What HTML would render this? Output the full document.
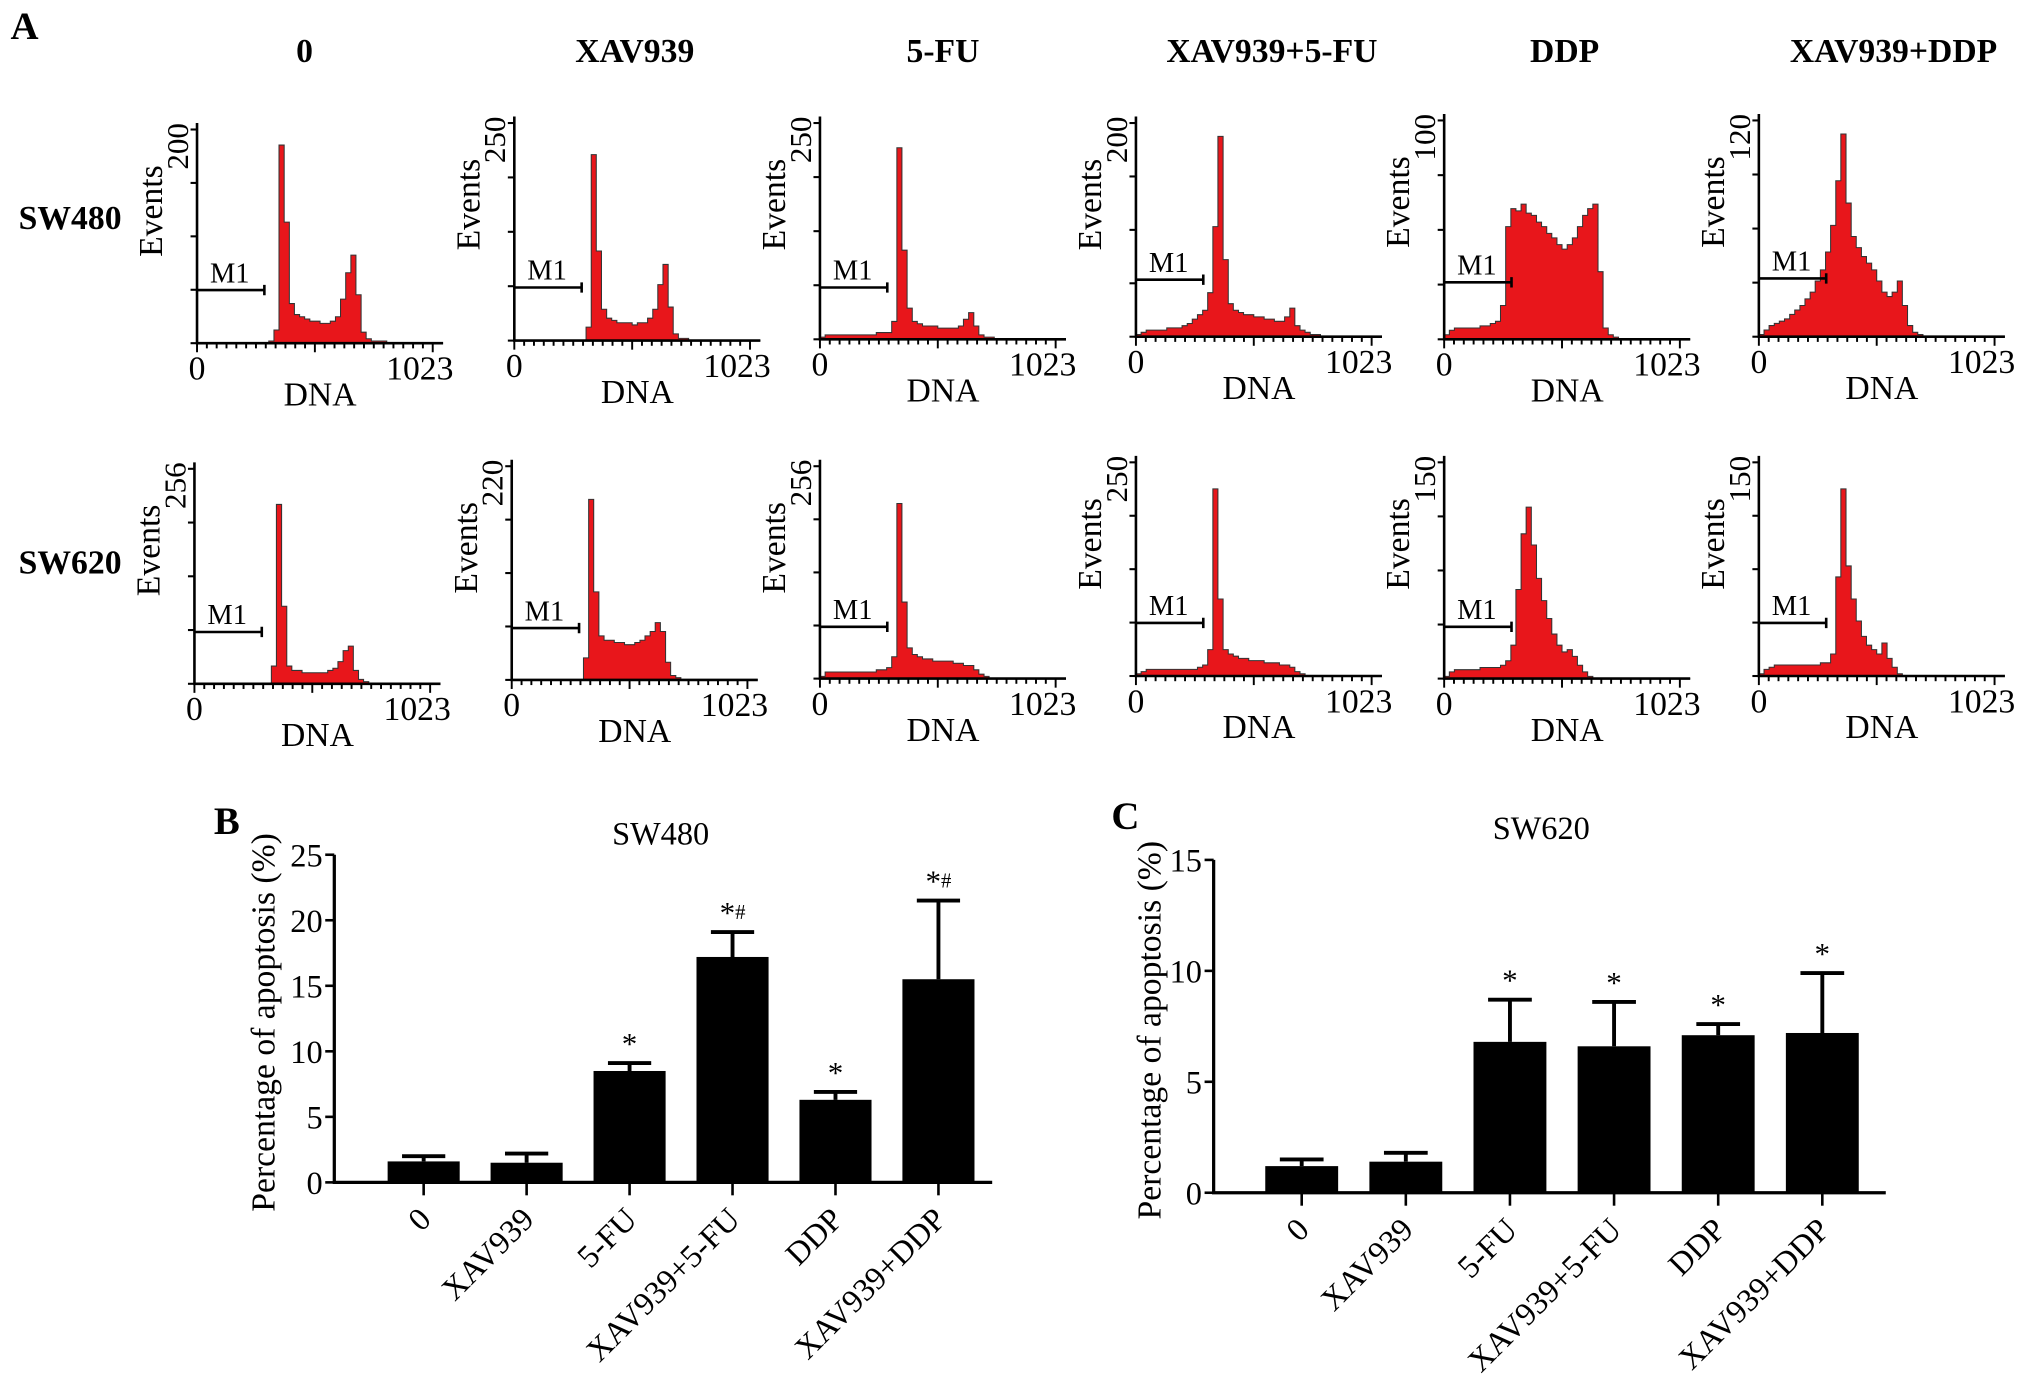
<!DOCTYPE html>
<html><head><meta charset="utf-8"><style>
html,body{margin:0;padding:0;background:#fff;}
svg{display:block;font-family:"Liberation Serif",serif;}
</style></head><body>
<svg id="fig" width="2031" height="1387" viewBox="0 0 1568 1071" xmlns="http://www.w3.org/2000/svg">
<rect width="1568" height="1071" fill="#fff"/>
<text x="8" y="30" font-size="30" font-weight="bold">A</text>
<text x="165" y="644" font-size="30" font-weight="bold">B</text>
<text x="858" y="640" font-size="30" font-weight="bold">C</text>
<text x="54" y="177" font-size="26" font-weight="bold" text-anchor="middle">SW480</text>
<text x="54" y="443" font-size="26" font-weight="bold" text-anchor="middle">SW620</text>
</svg>
<script>
// ---------- Panel A data ----------
const colTitles = ["0","XAV939","5-FU","XAV939+5-FU","DDP","XAV939+DDP"];
const row1Max = ["200","250","250","200","100","120"];
const row2Max = ["256","220","256","250","150","150"];
// histograms: 48 bins, fraction of axis height
const h_r1c0=[0,0,0,0,0,0,0,0,0,0,0,0,0,0,0.01,0.06,0.9,0.55,0.18,0.13,0.12,0.11,0.1,0.1,0.09,0.09,0.1,0.12,0.2,0.32,0.4,0.22,0.05,0.02,0.01,0.01,0.01,0,0,0,0,0,0,0,0,0,0,0];
const h_r1c1=[0,0,0,0,0,0,0,0,0,0,0,0,0,0,0.06,0.83,0.4,0.14,0.1,0.09,0.08,0.08,0.08,0.07,0.08,0.08,0.1,0.14,0.25,0.34,0.15,0.03,0.01,0.01,0,0,0,0,0,0,0,0,0,0,0,0,0,0];
const h_r1c2=[0.01,0.02,0.02,0.02,0.02,0.02,0.02,0.02,0.02,0.02,0.02,0.03,0.03,0.03,0.08,0.86,0.4,0.14,0.08,0.07,0.06,0.06,0.06,0.05,0.05,0.05,0.05,0.06,0.09,0.12,0.06,0.02,0.01,0.01,0,0,0,0,0,0,0,0,0,0,0,0,0,0];
const h_r1c3=[0.01,0.02,0.03,0.03,0.03,0.03,0.04,0.04,0.04,0.05,0.06,0.08,0.1,0.12,0.2,0.5,0.91,0.35,0.15,0.12,0.11,0.1,0.1,0.09,0.09,0.08,0.08,0.07,0.07,0.09,0.13,0.05,0.03,0.02,0.01,0.01,0,0,0,0,0,0,0,0,0,0,0,0];
const h_r1c4=[0.02,0.04,0.05,0.05,0.05,0.05,0.05,0.06,0.06,0.07,0.08,0.15,0.5,0.58,0.57,0.6,0.56,0.55,0.52,0.5,0.47,0.45,0.42,0.4,0.42,0.45,0.5,0.55,0.58,0.6,0.3,0.05,0.02,0.01,0,0,0,0,0,0,0,0,0,0,0,0,0,0];
const h_r1c5=[0.01,0.03,0.05,0.06,0.07,0.08,0.1,0.12,0.14,0.17,0.2,0.25,0.3,0.38,0.5,0.7,0.91,0.6,0.45,0.4,0.36,0.33,0.3,0.25,0.2,0.18,0.2,0.25,0.14,0.05,0.02,0.01,0,0,0,0,0,0,0,0,0,0,0,0,0,0,0,0];
const h_r2c0=[0,0,0,0,0,0,0,0,0,0,0,0,0,0,0,0.08,0.81,0.35,0.08,0.06,0.06,0.05,0.05,0.05,0.05,0.05,0.06,0.07,0.1,0.15,0.17,0.06,0.02,0.01,0,0,0,0,0,0,0,0,0,0,0,0,0,0];
const h_r2c1=[0,0,0,0,0,0,0,0,0,0,0,0,0,0,0.1,0.82,0.4,0.2,0.18,0.18,0.17,0.17,0.16,0.16,0.17,0.18,0.2,0.22,0.26,0.22,0.08,0.02,0.01,0,0,0,0,0,0,0,0,0,0,0,0,0,0,0];
const h_r2c2=[0.01,0.03,0.03,0.03,0.03,0.03,0.03,0.03,0.03,0.03,0.03,0.04,0.04,0.05,0.1,0.8,0.35,0.14,0.11,0.1,0.09,0.09,0.08,0.08,0.08,0.08,0.07,0.07,0.06,0.06,0.04,0.02,0.01,0,0,0,0,0,0,0,0,0,0,0,0,0,0,0];
const h_r2c3=[0.01,0.02,0.03,0.03,0.03,0.03,0.03,0.03,0.03,0.03,0.03,0.03,0.04,0.05,0.12,0.85,0.35,0.12,0.1,0.09,0.08,0.08,0.07,0.07,0.07,0.06,0.06,0.06,0.05,0.05,0.04,0.02,0.01,0,0,0,0,0,0,0,0,0,0,0,0,0,0,0];
const h_r2c4=[0.01,0.03,0.04,0.04,0.04,0.04,0.04,0.05,0.05,0.05,0.05,0.06,0.08,0.15,0.4,0.65,0.77,0.6,0.45,0.35,0.27,0.2,0.15,0.12,0.13,0.1,0.06,0.03,0.01,0,0,0,0,0,0,0,0,0,0,0,0,0,0,0,0,0,0,0];
const h_r2c5=[0.01,0.03,0.04,0.05,0.05,0.05,0.05,0.05,0.05,0.05,0.05,0.05,0.06,0.06,0.1,0.45,0.85,0.5,0.35,0.25,0.18,0.14,0.12,0.1,0.15,0.08,0.04,0.01,0,0,0,0,0,0,0,0,0,0,0,0,0,0,0,0,0,0,0,0];
const row1Hist=[h_r1c0,h_r1c1,h_r1c2,h_r1c3,h_r1c4,h_r1c5];
const row2Hist=[h_r2c0,h_r2c1,h_r2c2,h_r2c3,h_r2c4,h_r2c5];

// ---------- Panels B/C data ----------
const barCats = ["0","XAV939","5-FU","XAV939+5-FU","DDP","XAV939+DDP"];
const sw480Vals = [1.6,1.5,8.5,17.2,6.3,15.5];
const sw480Err = [0.4,0.7,0.6,1.9,0.6,6.0];
const sw480Sig = ["","","*","*#","*","*#"];
const sw480Ticks = [0,5,10,15,20,25];
const sw620Vals = [1.2,1.4,6.8,6.6,7.1,7.2];
const sw620Err = [0.3,0.4,1.9,2.0,0.5,2.7];
const sw620Sig = ["","","*","*","*","*"];
const sw620Ticks = [0,5,10,15];

const NS="http://www.w3.org/2000/svg";
const svg=document.getElementById('fig');
function mk(tag,attrs,parent){const e=document.createElementNS(NS,tag);for(const k in attrs)e.setAttribute(k,attrs[k]);(parent||svg).appendChild(e);return e;}

const titleX=[235,490,728,982,1208,1462];
colTitles.forEach((t,i)=>{
  const e=mk('text',{x:titleX[i],y:48,'font-size':26,'font-weight':'bold','text-anchor':'middle'});
  e.textContent=t;
  
  
});

function histo(x0,top,bot,data,maxLabel,m1y,name){
  const g=mk('g',{});
  
  
  const W=190,H=bot-top,n=data.length,bw=W/n;
  const xs=i=>x0+i*bw, ys=v=>bot-v*H;
  let d='M'+x0+','+bot;
  data.forEach((v,i)=>{d+=' L'+xs(i).toFixed(1)+','+ys(v).toFixed(1)+' L'+xs(i+1).toFixed(1)+','+ys(v).toFixed(1);});
  d+=' L'+(x0+W)+','+bot+' Z';
  const a=mk('path',{d:d,fill:'#e8161b',stroke:'#333','stroke-width':0.8},g);
  
  
  const ax=mk('path',{d:`M${x0},${top} V${bot} H${x0+W}`,fill:'none',stroke:'#000','stroke-width':2},g);
  
  
  for(let k=0;k<=4;k++){mk('line',{x1:x0-5,x2:x0,y1:top+5+k*(H-5)/4,y2:top+5+k*(H-5)/4,stroke:'#000','stroke-width':1.6},g);}
  for(let k=0;k<=24;k++){const tx=x0+k*(W-8)/24;mk('line',{x1:tx,x2:tx,y1:bot,y2:bot+(k%12==0?7:4),stroke:'#000','stroke-width':1.5},g);}
  const l0=mk('text',{x:x0,y:bot+28,'font-size':26,'text-anchor':'middle'},g);l0.textContent='0';
  
  
  const l1=mk('text',{x:x0+172,y:bot+28,'font-size':26,'text-anchor':'middle'},g);l1.textContent='1023';
  
  
  const dn=mk('text',{x:x0+95,y:bot+48,'font-size':26,'text-anchor':'middle'},g);dn.textContent='DNA';
  
  
  const ev=mk('text',{x:0,y:0,'font-size':26,'text-anchor':'middle',transform:`translate(${x0-27},${top+68}) rotate(-90)`},g);ev.textContent='Events';
  
  
  const mx=mk('text',{x:0,y:0,'font-size':24,'text-anchor':'middle',transform:`translate(${x0-7},${top+18}) rotate(-90)`},g);mx.textContent=maxLabel;
  
  
  mk('path',{d:`M${x0},${m1y} H${x0+52} M${x0+52},${m1y-4} V${m1y+4}`,stroke:'#000','stroke-width':2,fill:'none'},g);
  const m1=mk('text',{x:x0+10,y:m1y-6,'font-size':22},g);m1.textContent='M1';
  
  
}
const r1x=[152,397,633,877,1115,1358], r1b=[265,263,262,260,262,260], r1t=[95,90,90,90,88,88];
const r2x=[150,395,633,877,1115,1358], r2b=[528,525,524,522,524,522], r2t=[357,355,355,352,352,352];
const r1m=[224,222,222,216,218,215], r2m=[488,485,484,481,484,481];
for(let i=0;i<6;i++){histo(r1x[i],r1t[i],r1b[i],row1Hist[i],row1Max[i],r1m[i],'hist-sw480-'+i);}
for(let i=0;i<6;i++){histo(r2x[i],r2t[i],r2b[i],row2Hist[i],row2Max[i],r2m[i],'hist-sw620-'+i);}

function barChart(o){
  const g=mk('g',{});
  
  
  const maxV=o.ticks[o.ticks.length-1];
  const y=v=>o.y0-(v/maxV)*(o.y0-o.yTop);
  const step=o.step;
  const cx=i=>o.c0+step*i;
  const bw=step*0.7;
  o.vals.forEach((v,i)=>{
    const e=o.err[i];
    const eb=mk('path',{d:`M${cx(i)},${y(v)} V${y(v+e)} M${cx(i)-bw*0.3},${y(v+e)} H${cx(i)+bw*0.3}`,stroke:'#000','stroke-width':3,fill:'none'},g);
    
    
    const r=mk('rect',{x:cx(i)-bw/2,y:y(v),width:bw,height:o.y0-y(v),fill:'#000'},g);
    
    
    if(o.sig[i]){
      const s=mk('text',{x:cx(i),y:y(v+e)-7,'font-size':24,'text-anchor':'middle'},g);
      s.innerHTML=o.sig[i].replace('#','<tspan font-size="16" dy="-3">#</tspan>');
      
      
    }
    mk('line',{x1:cx(i),x2:cx(i),y1:o.y0,y2:o.y0+10,stroke:'#000','stroke-width':2},g);
    const lb=mk('text',{x:0,y:0,'font-size':25,'text-anchor':'end',transform:`translate(${cx(i)+7},${o.y0+30}) rotate(-45)`},g);
    lb.textContent=barCats[i];
    
    
  });
  const ax=mk('path',{d:`M${o.x0},${o.yTop} V${o.y0} H${o.xEnd}`,stroke:'#000','stroke-width':2.5,fill:'none'},g);
  
  
  o.ticks.forEach(t=>{
    mk('line',{x1:o.x0-7,x2:o.x0,y1:y(t),y2:y(t),stroke:'#000','stroke-width':2},g);
    const tl=mk('text',{x:o.x0-9,y:y(t)+9,'font-size':25,'text-anchor':'end'},g);
    tl.textContent=t;
    
    
  });
  const tt=mk('text',{x:o.titleX,y:o.titleY,'font-size':25,'text-anchor':'middle'},g);tt.textContent=o.title;
  
  
  const yt=mk('text',{x:0,y:0,'font-size':26,'text-anchor':'middle',transform:`translate(${o.yLabX},${(o.y0+o.yTop)/2+3}) rotate(-90)`},g);yt.textContent='Percentage of apoptosis (%)';
  
  
}
barChart({name:'chart-sw480',x0:258,xEnd:766,c0:327,step:79.5,y0:913,yTop:660,vals:sw480Vals,err:sw480Err,sig:sw480Sig,ticks:sw480Ticks,title:'SW480',titleX:510,titleY:652,yLabX:212});
barChart({name:'chart-sw620',x0:937,xEnd:1456,c0:1005,step:80.4,y0:921,yTop:664,vals:sw620Vals,err:sw620Err,sig:sw620Sig,ticks:sw620Ticks,title:'SW620',titleX:1190,titleY:648,yLabX:896});
</script>
</body></html>
